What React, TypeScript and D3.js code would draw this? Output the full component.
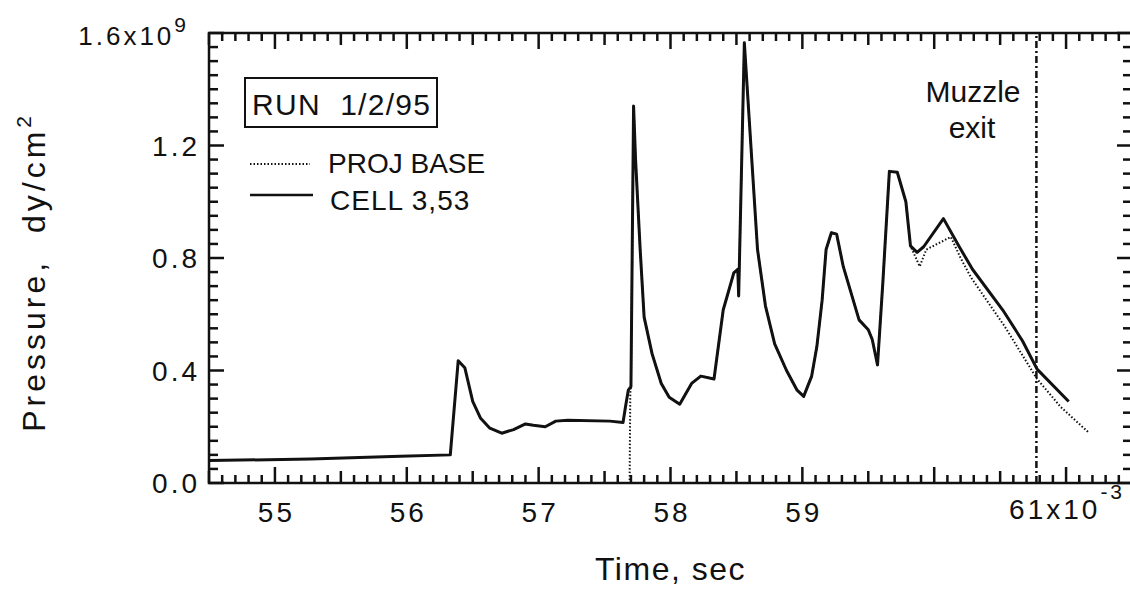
import * as d3 from "d3";
import React from "react";

// CELL 3,53 pressure history (time in ms, pressure in 1e9 dy/cm^2)
const cellTime = [
  54.5, 55.27, 55.95, 56.33, 56.39, 56.44, 56.5, 56.56, 56.63, 56.72, 56.81, 56.9, 56.96,
  57.05, 57.13, 57.22, 57.54, 57.64, 57.66, 57.68, 57.7, 57.72, 57.735, 57.77, 57.8, 57.86,
  57.93, 57.99, 58.07, 58.16, 58.23, 58.33, 58.4, 58.43, 58.48, 58.51, 58.517, 58.56, 58.66,
  58.72, 58.79, 58.88, 58.96, 59.01, 59.07, 59.11, 59.15, 59.18, 59.22, 59.26, 59.31, 59.43,
  59.5, 59.53, 59.57, 59.61, 59.66, 59.72, 59.785, 59.82, 59.87, 59.92, 60.07, 60.19, 60.29,
  60.52, 60.67, 60.78, 61.02,
];
const cellPressure = [
  0.08, 0.085, 0.095, 0.1, 0.435, 0.41, 0.29, 0.23, 0.195, 0.177, 0.19, 0.21, 0.205,
  0.2, 0.22, 0.223, 0.22, 0.215, 0.275, 0.33, 0.343, 1.34, 1.15, 0.83, 0.59, 0.46,
  0.354, 0.305, 0.28, 0.354, 0.38, 0.37, 0.616, 0.665, 0.747, 0.76, 0.665, 1.565, 0.83,
  0.63, 0.495, 0.4, 0.33, 0.308, 0.379, 0.485, 0.65, 0.83, 0.89, 0.885, 0.77, 0.58,
  0.545, 0.51, 0.42, 0.71, 1.108, 1.105, 1.0, 0.843, 0.82, 0.84, 0.94, 0.84, 0.76,
  0.615, 0.505, 0.405, 0.29,
];

// PROJ BASE: zero until the projectile starts, then follows the cell, then its own tail
const projLeadTime = [54.5, 57.69, 57.695];
const projLeadPressure = [0, 0, 0.32];
const projTailTime = [59.89, 59.94, 60.126, 60.2, 60.28, 60.53, 60.78, 60.96, 61.17];
const projTailPressure = [0.77, 0.83, 0.875, 0.8, 0.73, 0.56, 0.37, 0.27, 0.18];

const xTickLabels = [55, 56, 57, 58, 59];
const yTickValues = [0, 0.4, 0.8, 1.2];
const yTickLabels = ["0.0", "0.4", "0.8", "1.2"];
const muzzleExitTime = 60.775;

const FONT = "'Liberation Sans', Arial, Helvetica, sans-serif";
const INK = "#111";

const x = d3.scaleLinear().domain([54.5, 61.5]).range([209, 1132]);
const y = d3.scaleLinear().domain([0, 1.6]).range([483, 33]);

type Pt = [number, number];

function PressureChart() {
  const cell: Pt[] = cellTime.map((t, i) => [t, cellPressure[i]]);
  const proj: Pt[] = [
    ...projLeadTime.map((t, i) => [t, projLeadPressure[i]] as Pt),
    ...cell.filter(d => d[0] >= 57.7 && d[0] <= 59.83),
    ...projTailTime.map((t, i) => [t, projTailPressure[i]] as Pt),
  ];
  const line = d3.line<Pt>().x(d => x(d[0])).y(d => y(d[1]));

  // x ticks every 0.1 (longer at .5 and whole units), y ticks every 0.05
  const xTicks = d3.range(545, 616).map(i => ({ v: i / 10, len: i % 10 === 0 ? 16 : i % 5 === 0 ? 12 : 8 }));
  const yTicks = d3.range(0, 33).map(i => ({ v: i * 0.05, len: i % 8 === 0 ? 15 : 9 }));

  const x0 = x(54.5), x1 = x(61.5), y0 = y(0), y1 = y(1.6);

  return (
    <svg width={1130} height={590}
      style={{ position: "absolute", left: 0, top: 0, background: "#fff" }}>
      <rect x={x0} y={y1} width={x1 - x0} height={y0 - y1}
        fill="none" stroke={INK} strokeWidth={2.5} />

      <g stroke={INK} strokeWidth={2.5}>
        {xTicks.map((t, i) => (
          <line key={"xb" + i} x1={x(t.v)} x2={x(t.v)} y1={y0} y2={y0 - t.len} />
        ))}
        {xTicks.map((t, i) => (
          <line key={"xt" + i} x1={x(t.v)} x2={x(t.v)} y1={y1} y2={y1 + t.len} />
        ))}
        {yTicks.map((t, i) => (
          <line key={"yl" + i} x1={x0} x2={x0 + t.len} y1={y(t.v)} y2={y(t.v)} />
        ))}
        {yTicks.map((t, i) => (
          <line key={"yr" + i} x1={x1} x2={x1 - t.len} y1={y(t.v)} y2={y(t.v)} />
        ))}
      </g>

      <g fontFamily={FONT} fill={INK}>
        {yTickValues.map((v, i) => (
          <text key={v} x={200} y={y(v)} dy="0.36em" textAnchor="end"
            fontSize={28} letterSpacing={3}>{yTickLabels[i]}</text>
        ))}
        <text x={189} y={45} textAnchor="end" fontSize={26} letterSpacing={3}>
          <tspan>1.6x10</tspan>
          <tspan dy={-13} fontSize={21}>9</tspan>
        </text>

        {xTickLabels.map(v => (
          <text key={v} x={x(v) + 1.5} y={522} textAnchor="middle"
            fontSize={28} letterSpacing={3}>{v}</text>
        ))}
        <text x={x(61) + 1} y={519} textAnchor="middle" fontSize={28} letterSpacing={3}>
          <tspan>61x10</tspan>
          <tspan dy={-20} fontSize={21}>-3</tspan>
        </text>

        <text x={(x0 + x1) / 2} y={580} textAnchor="middle" fontSize={32} letterSpacing={1.5}>
          Time, sec
        </text>
        <text transform="translate(45, 112) rotate(-90)" textAnchor="end" fontSize={32}
          letterSpacing={4} style={{ whiteSpace: "pre" }}>
          <tspan>{"Pressure,  dy/cm"}</tspan>
          <tspan dy={-14} fontSize={21}>2</tspan>
        </text>

        <text x={973} y={102} textAnchor="middle" fontSize={30}>Muzzle</text>
        <text x={972} y={138} textAnchor="middle" fontSize={30}>exit</text>

        <text x={252} y={115} fontSize={30} textLength={178} lengthAdjust="spacing"
          style={{ whiteSpace: "pre" }}>{"RUN  1/2/95"}</text>
        <text x={328} y={173} fontSize={28}>PROJ BASE</text>
        <text x={330} y={210} fontSize={28} letterSpacing={1}>CELL 3,53</text>
      </g>

      {/* muzzle exit marker */}
      <line x1={x(muzzleExitTime)} x2={x(muzzleExitTime)} y1={y0} y2={y1}
        stroke={INK} strokeWidth={2.5} strokeDasharray="7 3 2 3" />

      {/* series */}
      <path d={line(proj) ?? ""} fill="none" stroke={INK} strokeWidth={2}
        strokeDasharray="1.5 2" />
      <path d={line(cell) ?? ""} fill="none" stroke={INK} strokeWidth={3}
        strokeLinejoin="round" />

      {/* legend */}
      <rect x={245} y={78} width={192} height={49} fill="none" stroke={INK} strokeWidth={2} />
      <line x1={250} x2={310} y1={164} y2={164} stroke={INK} strokeWidth={2}
        strokeDasharray="1.5 2" />
      <line x1={250} x2={313} y1={195} y2={195} stroke={INK} strokeWidth={2.5} />
    </svg>
  );
}

export default function App() {
  return <PressureChart />;
}
